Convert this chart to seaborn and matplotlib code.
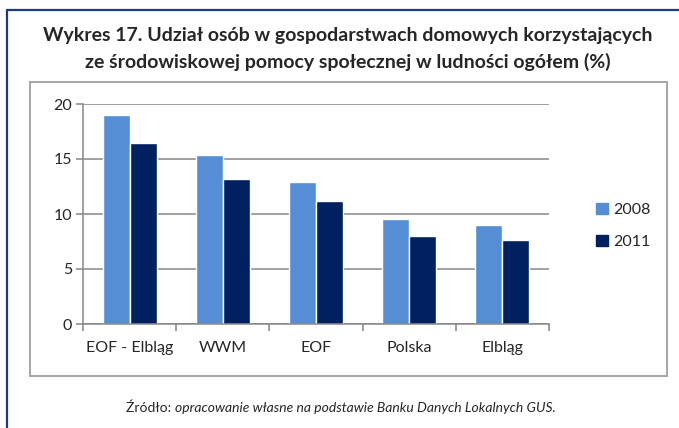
import pandas as pd
import matplotlib.pyplot as plt
import seaborn as sns
from matplotlib.patches import Rectangle
from matplotlib.lines import Line2D

# === Data ===
categories = ["EOF - Elbląg", "WWM", "EOF", "Polska", "Elbląg"]
years = ["2008", "2011"]
values_2008 = [19.0, 15.4, 12.9, 9.55, 9.0]
values_2011 = [16.5, 13.2, 11.2, 8.0, 7.6]
yticks = [0, 5, 10, 15, 20]

colors = ["#558ED5", "#002060"]
grid_color = "#868686"

df = pd.DataFrame({
    "kategoria": categories * 2,
    "rok": [years[0]] * len(categories) + [years[1]] * len(categories),
    "wartosc": values_2008 + values_2011,
})

sns.set_style("white")
plt.rcParams["font.family"] = ["Lato", "DejaVu Sans"]

fig = plt.figure(figsize=(6.79, 4.28), dpi=100)
W, H = 679, 428

# outer blue frame (left and top)
fig.add_artist(Line2D([7 / W, 7 / W], [0, 1 - 10 / H], color="#1F3B7A", lw=1.6,
                      transform=fig.transFigure))
fig.add_artist(Line2D([7 / W, 1], [1 - 10 / H, 1 - 10 / H], color="#1F3B7A", lw=1.6,
                      transform=fig.transFigure))

# inner gray chart box
fig.add_artist(Rectangle((30 / W, 1 - 376 / H), (667 - 30) / W, (376 - 82) / H,
                         fill=False, ec="#A6A6A6", lw=1.4, transform=fig.transFigure))

ax = fig.add_axes([83 / W, 1 - 324 / H, (549 - 83) / W, (324 - 104) / H])
sns.barplot(data=df, x="kategoria", y="wartosc", hue="rok", palette=colors,
            width=0.58, ax=ax, legend=False, saturation=1)

ax.set_ylim(0, 20)
ax.set_xlim(-0.5, len(categories) - 0.5)
ax.set_yticks(yticks)
ax.set_xlabel("")
ax.set_ylabel("")
ax.yaxis.grid(True, color=grid_color, lw=1.1)
ax.set_axisbelow(True)
for s in ["top", "right"]:
    ax.spines[s].set_visible(False)
for s in ["left", "bottom"]:
    ax.spines[s].set_color(grid_color)
    ax.spines[s].set_linewidth(1.1)

ax.tick_params(axis="y", length=5, color=grid_color, width=1.1, labelsize=11.5,
               pad=3, left=True)
ax.tick_params(axis="x", which="major", length=0, labelsize=11.5, pad=12)
ax.set_xticks([i - 0.5 for i in range(len(categories) + 1)], minor=True)
ax.tick_params(axis="x", which="minor", length=5, color=grid_color, width=1.1,
               bottom=True)

# legend
handles = [Rectangle((0, 0), 1, 1, color=c) for c in colors]
fig.legend(handles, years, loc="center left", bbox_to_anchor=(588 / W, 1 - 226 / H),
           frameon=False, fontsize=11.5, handlelength=0.75, handleheight=0.75,
           handletextpad=0.3, labelspacing=1.1, borderpad=0)

# title
fig.text(0.5 + 8 / W, 1 - 36 / H,
         "Wykres 17. Udział osób w gospodarstwach domowych korzystających",
         ha="center", va="center", fontsize=14, fontweight="bold")
fig.text(0.5 + 8 / W, 1 - 62 / H,
         "ze środowiskowej pomocy społecznej w ludności ogółem (%)",
         ha="center", va="center", fontsize=14, fontweight="bold")

# source line: normal prefix + italic remainder, centred as a whole
t1 = fig.text(0, 1 - 408 / H, "Źródło: ", ha="left", va="center", fontsize=10)
t2 = fig.text(0, 1 - 408 / H,
              "opracowanie własne na podstawie Banku Danych Lokalnych GUS.",
              ha="left", va="center", fontsize=10, style="italic")
r = fig.canvas.get_renderer()
w1 = t1.get_window_extent(r).width
w2 = t2.get_window_extent(r).width
x0 = 341 - (w1 + w2) / 2
t1.set_x(x0 / W)
t2.set_x((x0 + w1) / W)

fig.savefig("out.png", dpi=100)
